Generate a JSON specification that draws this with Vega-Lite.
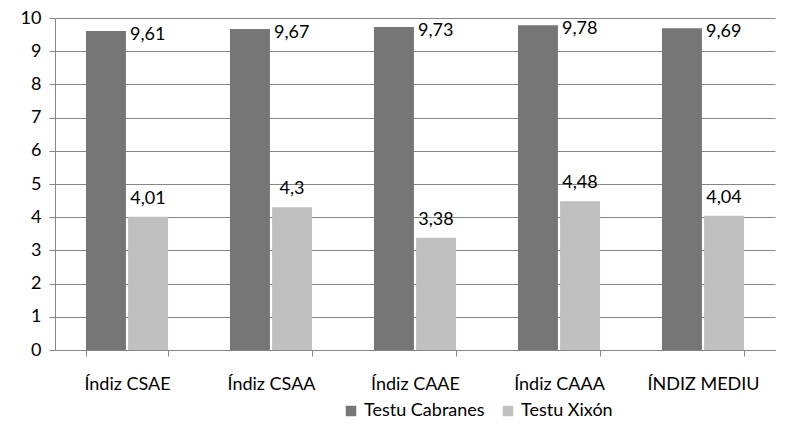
{
  "$schema": "https://vega.github.io/schema/vega-lite/v6.json",
  "width": 720,
  "height": 332,
  "autosize": {"type": "none"},
  "padding": {"left": 55, "top": 18, "right": 10, "bottom": 86},
  "background": "white",
  "data": {"values": [
    {"category": "Índiz CSAE", "series": "Testu Cabranes", "value": 9.61},
    {"category": "Índiz CSAE", "series": "Testu Xixón", "value": 4.01},
    {"category": "Índiz CSAA", "series": "Testu Cabranes", "value": 9.67},
    {"category": "Índiz CSAA", "series": "Testu Xixón", "value": 4.3},
    {"category": "Índiz CAAE", "series": "Testu Cabranes", "value": 9.73},
    {"category": "Índiz CAAE", "series": "Testu Xixón", "value": 3.38},
    {"category": "Índiz CAAA", "series": "Testu Cabranes", "value": 9.78},
    {"category": "Índiz CAAA", "series": "Testu Xixón", "value": 4.48},
    {"category": "ÍNDIZ MEDIU", "series": "Testu Cabranes", "value": 9.69},
    {"category": "ÍNDIZ MEDIU", "series": "Testu Xixón", "value": 4.04}
  ]},
  "encoding": {
    "x": {
      "field": "category", "type": "nominal", "sort": null, "title": null,
      "scale": {"paddingInner": 0.43, "paddingOuter": 0.215},
      "axis": {"labelAngle": 0, "tickBand": "extent", "labelPadding": 19, "tickSize": 6, "domainColor": "#868686", "tickColor": "#868686", "labelFontSize": 18}
    },
    "xOffset": {"field": "series", "type": "nominal", "scale": {"paddingInner": 0.05}},
    "y": {
      "field": "value", "type": "quantitative", "title": null,
      "scale": {"domain": [0, 10]},
      "axis": {"values": [0,1,2,3,4,5,6,7,8,9,10], "labelOverlap": false, "grid": true, "gridColor": "#868686", "domainColor": "#868686", "tickColor": "#868686", "tickSize": 6, "labelPadding": 8, "labelFontSize": 18}
    }
  },
  "layer": [
    {
      "mark": {"type": "bar"},
      "encoding": {
        "color": {
          "field": "series", "type": "nominal", "title": null,
          "scale": {"domain": ["Testu Cabranes", "Testu Xixón"], "range": ["#767676", "#c0c0c0"]},
          "legend": {"orient": "none", "legendX": 287, "legendY": 384, "direction": "horizontal", "symbolType": "square", "symbolSize": 110, "labelFontSize": 18, "columnPadding": 14, "symbolStrokeWidth": 0}
        }
      }
    },
    {
      "transform": [{"filter": "datum.series === 'Testu Cabranes'"}],
      "mark": {"type": "text", "align": "left", "baseline": "middle", "dx": 24, "dy": 4, "fontSize": 18, "color": "#000"},
      "encoding": {"text": {"field": "value", "type": "quantitative", "format": "~g"}}
    },
    {
      "transform": [{"filter": "datum.series === 'Testu Xixón'"}],
      "mark": {"type": "text", "align": "center", "baseline": "bottom", "dy": -9, "fontSize": 18, "color": "#000"},
      "encoding": {"text": {"field": "value", "type": "quantitative", "format": "~g"}}
    }
  ],
  "config": {
    "font": "Lato",
    "locale": {"number": {"decimal": ",", "thousands": ".", "grouping": [3], "currency": ["", " €"]}},
    "view": {"stroke": null},
    "axis": {"labelColor": "#000", "labelFont": "Lato"},
    "legend": {"labelColor": "#000", "labelFont": "Lato"}
  }
}
